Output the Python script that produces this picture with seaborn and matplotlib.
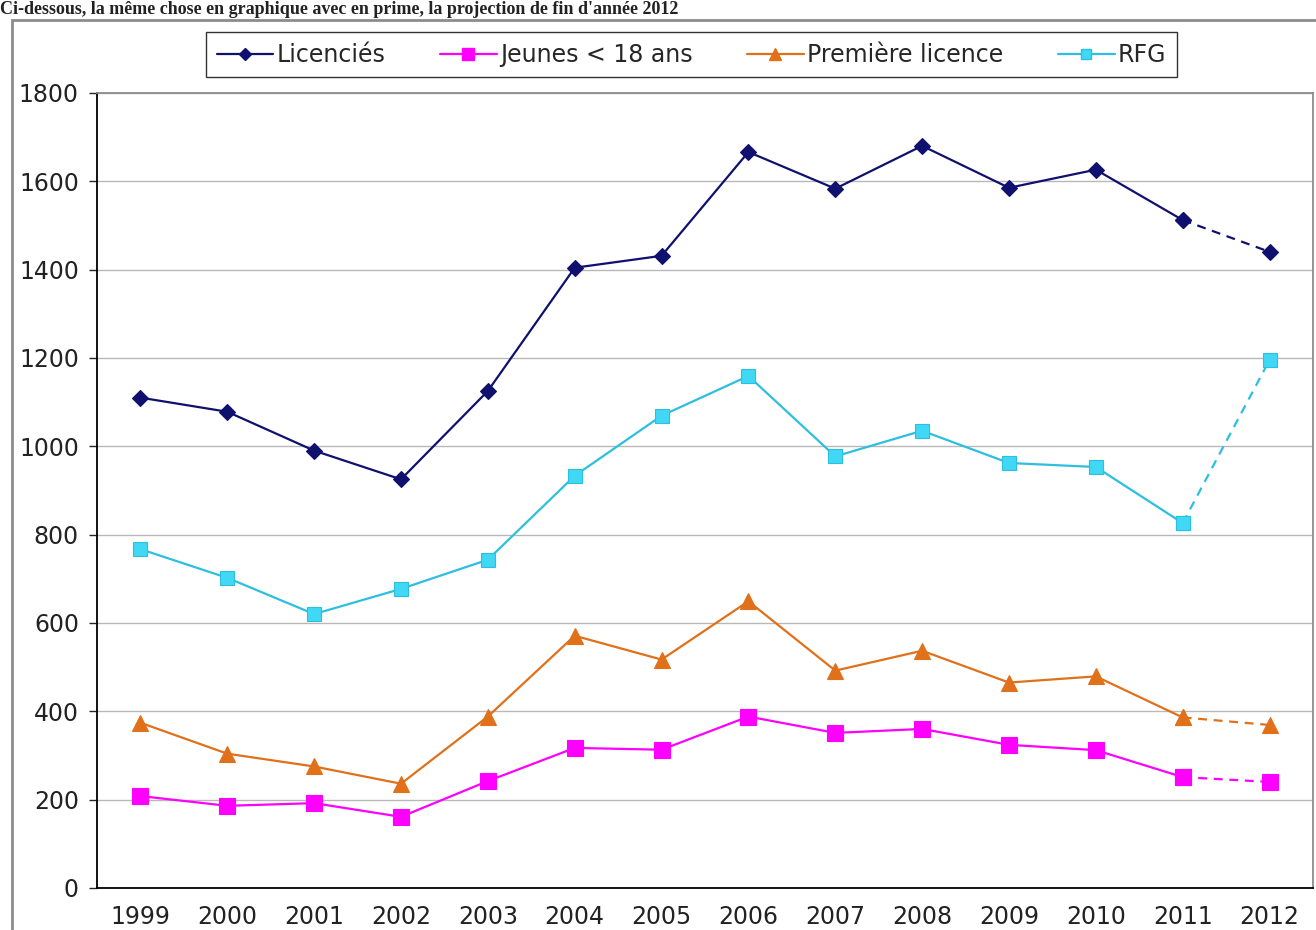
import pandas as pd
import numpy as np
import matplotlib
matplotlib.use('Agg')
import matplotlib.pyplot as plt
from matplotlib.patches import Rectangle
from matplotlib.lines import Line2D
import seaborn as sns

# Données
annees = [1999, 2000, 2001, 2002, 2003, 2004, 2005, 2006, 2007, 2008, 2009, 2010, 2011, 2012]
licencies = [1110, 1078, 990, 925, 1125, 1404, 1431, 1666, 1583, 1680, 1585, 1626, 1512, 1440]
jeunes = [208, 186, 192, 161, 242, 317, 313, 388, 351, 360, 324, 312, 251, 240]
premiere = [374, 304, 275, 236, 388, 571, 517, 649, 492, 537, 465, 479, 386, 369]
rfg = [767, 702, 620, 677, 743, 933, 1069, 1159, 977, 1035, 962, 953, 826, 1195]

series = ['Licenciés', 'Jeunes < 18 ans', 'Première licence', 'RFG']
valeurs = [licencies, jeunes, premiere, rfg]
couleurs = ['#10106E', '#FF00FF', '#E0701A', '#2CBFE0']
marqueurs = ['D', 's', '^', 's']
tailles = [8.5, 11, 11, 9.5]
faces = ['#10106E', '#FF00FF', '#E0701A', '#40D8F5']

sns.set_style('white')
plt.rcParams['font.family'] = ['DejaVu Sans']

fig = plt.figure(figsize=(13.16, 9.30), dpi=100)
ax = fig.add_axes([0.0737, 0.0452, 0.924, 0.855])

df = pd.DataFrame({'annee': np.tile(annees, len(series)),
                   'serie': np.repeat(series, len(annees)),
                   'valeur': np.concatenate(valeurs)})

handles = []
for nom, col, mk, ms, fc in zip(series, couleurs, marqueurs, tailles, faces):
    d = df[df['serie'] == nom]
    plein = d[d['annee'] <= 2011]
    proj = d[d['annee'] >= 2011]
    sns.lineplot(data=plein, x='annee', y='valeur', color=col, linewidth=1.6,
                 marker=mk, markersize=ms, markerfacecolor=fc, markeredgecolor=col,
                 markeredgewidth=0.8, ax=ax, zorder=3)
    sns.lineplot(data=proj, x='annee', y='valeur', color=col, linewidth=1.6,
                 linestyle=(0, (4, 3)), marker=mk, markersize=ms, markerfacecolor=fc,
                 markeredgecolor=col, markeredgewidth=0.8, ax=ax, zorder=3)
    handles.append(Line2D([], [], color=col, linewidth=1.6, marker=mk,
                          markersize=ms * 0.75, markerfacecolor=fc, markeredgecolor=col))

ax.set_xlim(1998.5, 2012.5)
ax.set_ylim(0, 1800)
ax.set_xticks(annees)
ax.set_xticklabels([str(a) for a in annees], fontsize=17, color='#222222')
ax.set_yticks(range(0, 1801, 200))
ax.set_yticklabels([str(v) for v in range(0, 1801, 200)], fontsize=17, color='#222222')
ax.tick_params(axis='y', which='major', length=6, width=1, direction='out', left=True, pad=7)
ax.tick_params(axis='x', length=0, pad=12)
ax.set_xlabel('')
ax.set_ylabel('')
ax.yaxis.grid(True, color='#B8B8B8', linewidth=1)
ax.set_axisbelow(True)
for s in ['left', 'bottom']:
    ax.spines[s].set_color('black')
    ax.spines[s].set_linewidth(1.3)
for s in ['top', 'right']:
    ax.spines[s].set_color('#8C8C8C')
    ax.spines[s].set_linewidth(1.3)

leg = fig.legend(handles, series, loc='center', bbox_to_anchor=(0.5255, 0.941),
                 ncol=4, fontsize=17, frameon=True, fancybox=False,
                 handlelength=2.4, handletextpad=0.15, columnspacing=2.3,
                 borderpad=0.45, borderaxespad=0)
leg.get_frame().set_edgecolor('black')
leg.get_frame().set_linewidth(1)

# Cadre extérieur
fig.patches.append(Rectangle((0.009, -0.01), 1.2, 0.989, transform=fig.transFigure,
                             fill=False, edgecolor='#8C8C8C', linewidth=2))

# Ligne de texte au-dessus du cadre
fig.text(0.0, 0.999, "Ci-dessous, la même chose en graphique avec en prime, la projection de fin d'année 2012",
         family=['Liberation Serif', 'DejaVu Serif'], fontsize=13, fontweight='bold',
         ha='left', va='top', color='#222222')

plt.savefig('out.png', dpi=100)
plt.close()
